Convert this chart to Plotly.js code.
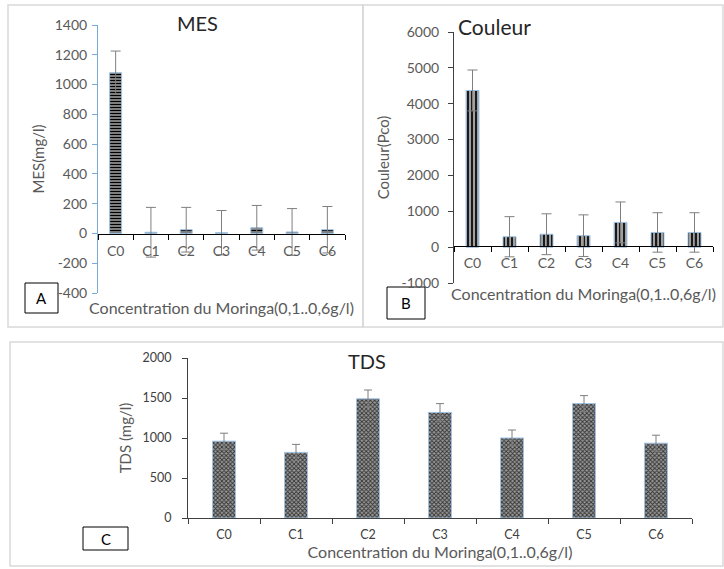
<!DOCTYPE html>
<html>
<head>
<meta charset="utf-8">
<script src="https://cdn.plot.ly/plotly-3.0.1.min.js"></script>
<style>
html,body{margin:0;padding:0;background:#fff;}
#chart{width:724px;height:569px;}
</style>
</head>
<body>
<div id="chart"></div>
<script>
// ---- data ----
const categories = ['C0', 'C1', 'C2', 'C3', 'C4', 'C5', 'C6'];
const mesValues = [1080, 8, 25, 5, 38, 10, 25];
const mesErrors = [145, 167, 150, 149, 150, 157, 156];
const couleurValues = [4370, 290, 360, 320, 690, 410, 410];
const couleurErrors = [570, 560, 570, 580, 570, 550, 550];
const tdsValues = [960, 820, 1490, 1320, 1000, 1430, 935];
const tdsErrors = [100, 100, 110, 110, 100, 100, 100];

const mesTicks = [-400, -200, 0, 200, 400, 600, 800, 1000, 1200, 1400];
const couleurTicks = [-1000, 0, 1000, 2000, 3000, 4000, 5000, 6000];
const tdsTicks = [0, 500, 1000, 1500, 2000];

const mesTitle = 'MES';
const couleurTitle = 'Couleur';
const tdsTitle = 'TDS';
const xTitle = 'Concentration du Moringa(0,1..0,6g/l)';

// ---- helpers (pixel -> paper) ----
const W = 724, H = 569;
const px = x => x / W;
const py = y => 1 - y / H;
const FONT = 'Lato, "Open Sans", sans-serif';

const errStyle = {type: 'data', symmetric: true, color: '#7f7f7f', thickness: 1, width: 5};

const traces = [
  {
    type: 'bar', x: categories, y: mesValues, xaxis: 'x', yaxis: 'y', width: 0.34,
    error_y: Object.assign({array: mesErrors}, errStyle),
    marker: {color: '#9a9a9a', line: {color: '#9dc3e6', width: 1},
      pattern: {shape: '-', fgcolor: '#000000', bgcolor: '#a8a8a8', size: 3, solidity: 0.5}},
    hoverinfo: 'x+y'
  },
  {
    type: 'bar', x: categories, y: couleurValues, xaxis: 'x2', yaxis: 'y2', width: 0.35,
    error_y: Object.assign({array: couleurErrors}, errStyle),
    marker: {color: '#8a8a8a', line: {color: '#9dc3e6', width: 1},
      pattern: {shape: '|', fgcolor: '#1a1a1a', bgcolor: '#a0a0a0', size: 4, solidity: 0.5}},
    hoverinfo: 'x+y'
  },
  {
    type: 'bar', x: categories, y: tdsValues, xaxis: 'x3', yaxis: 'y3', width: 0.32,
    error_y: Object.assign({array: tdsErrors}, errStyle, {width: 4}),
    marker: {color: '#707070', line: {color: '#9dc3e6', width: 1},
      pattern: {shape: 'x', fgcolor: '#333333', bgcolor: '#9a9a9a', size: 3, solidity: 0.5}},
    hoverinfo: 'x+y'
  }
];

const tickFont = {family: FONT, size: 14, color: '#595959'};
const tickFontC = {family: FONT, size: 12.5, color: '#404040'};
const axTitleFont = {family: FONT, size: 16, color: '#595959'};
const yTitleFont = {family: FONT, size: 15, color: '#595959'};

function xCat(domain, extra) {
  return Object.assign({
    domain: domain, type: 'category', range: [-0.5, 6.5], tickson: 'boundaries',
    ticks: 'outside', ticklen: 5, tickcolor: '#000', showline: true, linecolor: '#000',
    linewidth: 1, showgrid: false, zeroline: false, tickfont: tickFont, fixedrange: true,
    ticklabelstandoff: 4
  }, extra);
}
function yVal(domain, ticks, extra) {
  return Object.assign({
    domain: domain, ticks: 'outside', ticklen: 5, showline: true, linewidth: 1,
    tickmode: 'array', tickvals: ticks, ticktext: ticks.map(String),
    showgrid: false, zeroline: false, tickfont: tickFont, fixedrange: true
  }, extra);
}

const frameLine = {color: '#d9d9d9', width: 1.5};
function rectShape(x0, y0, x1, y1, line) {
  return {type: 'rect', xref: 'paper', yref: 'paper', x0: px(x0), x1: px(x1), y0: py(y1), y1: py(y0),
    line: line, fillcolor: 'rgba(0,0,0,0)', layer: 'below'};
}

const layout = {
  width: W, height: H,
  margin: {l: 0, r: 0, t: 0, b: 0},
  paper_bgcolor: '#ffffff', plot_bgcolor: 'rgba(0,0,0,0)',
  showlegend: false,
  font: {family: FONT, color: '#404040'},
  xaxis: xCat([px(98), px(345)], {anchor: 'free', position: py(234),
    title: {text: xTitle, font: axTitleFont, standoff: 45}}),
  yaxis: yVal([py(293), py(25)], mesTicks, {anchor: 'x', range: [-400, 1400],
    linecolor: '#7aaad8', tickcolor: '#7aaad8', ticklabelstandoff: 2,
    title: {text: 'MES(mg/l)', font: yTitleFont, standoff: 6}}),
  xaxis2: xCat([px(454), px(713)], {anchor: 'free', position: py(246),
    title: {text: xTitle, font: axTitleFont, standoff: 19}}),
  yaxis2: yVal([py(283), py(32)], couleurTicks, {anchor: 'x2', range: [-1000, 6000],
    linecolor: '#404040', tickcolor: '#404040', ticklabelstandoff: 6,
    title: {text: 'Couleur(Pco)', font: yTitleFont, standoff: 8}}),
  xaxis3: xCat([px(188), px(692)], {anchor: 'y3', linecolor: '#404040', tickcolor: '#404040',
    tickfont: tickFontC, ticklabelstandoff: 5,
    title: {text: xTitle, font: axTitleFont, standoff: 3}}),
  yaxis3: yVal([py(518), py(358)], tdsTicks, {anchor: 'x3', range: [0, 2000],
    linecolor: '#404040', tickcolor: '#404040', tickfont: tickFontC, ticklabelstandoff: 8,
    title: {text: 'TDS (mg/l)', font: yTitleFont, standoff: 7}}),
  shapes: [
    rectShape(8, 5, 363, 327, frameLine),
    rectShape(363, 5, 723, 327, frameLine),
    rectShape(10, 342, 723, 566, frameLine),
    rectShape(25, 283, 58, 313, {color: '#000', width: 1}),
    rectShape(387, 287, 425, 319, {color: '#000', width: 1}),
    rectShape(83, 527, 128, 550, {color: '#000', width: 1})
  ],
  annotations: [
    {text: mesTitle, x: px(197), y: py(23), xref: 'paper', yref: 'paper', showarrow: false,
      xanchor: 'center', yanchor: 'middle', font: {family: FONT, size: 20, color: '#262626'}},
    {text: couleurTitle, x: px(495), y: py(27), xref: 'paper', yref: 'paper', showarrow: false,
      xanchor: 'center', yanchor: 'middle', font: {family: FONT, size: 21, color: '#262626'}},
    {text: tdsTitle, x: px(367), y: py(361), xref: 'paper', yref: 'paper', showarrow: false,
      xanchor: 'center', yanchor: 'middle', font: {family: FONT, size: 20, color: '#262626'}},
    {text: 'A', x: px(41.5), y: py(298), xref: 'paper', yref: 'paper', showarrow: false,
      xanchor: 'center', yanchor: 'middle', font: {family: FONT, size: 15, color: '#000'}},
    {text: 'B', x: px(406), y: py(303), xref: 'paper', yref: 'paper', showarrow: false,
      xanchor: 'center', yanchor: 'middle', font: {family: FONT, size: 15, color: '#000'}},
    {text: 'C', x: px(105.5), y: py(538.5), xref: 'paper', yref: 'paper', showarrow: false,
      xanchor: 'center', yanchor: 'middle', font: {family: FONT, size: 15, color: '#000'}}
  ]
};

Plotly.newPlot('chart', traces, layout, {displayModeBar: false, staticPlot: true});
</script>
</body>
</html>
